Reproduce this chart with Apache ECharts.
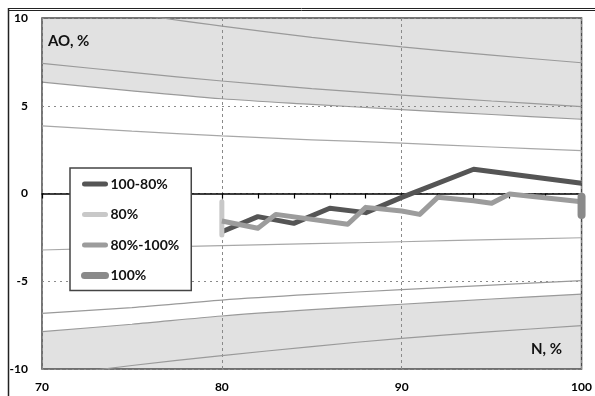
<!DOCTYPE html>
<html>
<head>
<meta charset="utf-8">
<script src="https://cdn.jsdelivr.net/npm/echarts@6/dist/echarts.min.js"></script>
<style>
  html, body { margin: 0; padding: 0; background: #fff; }
  #chart { width: 595px; height: 396px; }
</style>
</head>
<body>
<div id="chart"></div>
<script>
// Reference curves sampled along N, %
const nGrid = [70, 75, 80, 85, 90, 95, 100];
const curveA = [11.1, 10.25, 9.54, 8.9, 8.35, 7.88, 7.45];
const curveB = [7.42, 6.9, 6.41, 5.98, 5.61, 5.27, 4.95];
const curveC = [6.35, 5.85, 5.4, 5.08, 4.78, 4.5, 4.23];   // upper band edge
const curveD = [3.85, 3.55, 3.28, 3.06, 2.87, 2.65, 2.44];
const curveE = [-3.22, -3.09, -2.97, -2.86, -2.75, -2.63, -2.52];
const curveF = [-6.83, -6.5, -6.07, -5.75, -5.48, -5.22, -4.97];
const curveG = [-7.87, -7.45, -6.98, -6.62, -6.31, -6.01, -5.73]; // lower band edge
const curveH = [-10.45, -9.8, -9.24, -8.72, -8.25, -7.87, -7.53];

// Measured series
const n100to80 = [80, 82, 84, 86, 88, 90, 94, 100];
const ao100to80 = [-2.18, -1.32, -1.70, -0.84, -1.09, -0.22, 1.38, 0.58];
const n80 = [80, 80];
const ao80 = [-0.47, -2.36];
const n80to100 = [80, 82, 83, 87, 88, 90, 91, 92, 94, 95, 96, 100];
const ao80to100 = [-1.57, -1.98, -1.19, -1.75, -0.79, -1.0, -1.19, -0.22, -0.41, -0.56, -0.03, -0.47];
const n100 = [100, 100];
const ao100 = [-0.18, -1.22];

const xTickLabels = [70, 80, 90, 100];
const yTickLabels = [-10, -5, 0, 5, 10];

const FONT = 'Lato, "DejaVu Sans", sans-serif';
const zip = (xs, ys) => xs.map((x, i) => [x, ys[i]]);

function curve(ys, extra) {
  return Object.assign({
    type: 'line',
    data: zip(nGrid, ys),
    smooth: 0.3,
    symbol: 'none',
    silent: true,
    z: 1,
    lineStyle: { color: '#9a9a9a', width: 1.2 },
    legendHoverLink: false
  }, extra || {});
}

// legend entry: a plain rounded stroke, no point marker
const legendItem = (name, width) => ({
  name,
  lineStyle: { width, cap: 'round' },
  itemStyle: { opacity: 0 }
});

const chart = echarts.init(document.getElementById('chart'), null, { renderer: 'canvas' });

chart.setOption({
  animation: false,
  backgroundColor: '#ffffff',
  grid: {
    left: 42, top: 18, right: 12, bottom: 27,
    show: true, borderColor: '#4a4a4a', borderWidth: 1.5,
    backgroundColor: 'transparent'
  },
  xAxis: [
    {
      type: 'value', min: 70, max: 100, interval: 10,
      axisLine: { show: false, onZero: false },
      axisTick: { show: false },
      axisLabel: {
        margin: 12, color: '#000', fontFamily: FONT, fontWeight: 'bold', fontSize: 12,
        formatter: v => xTickLabels.includes(v) ? String(v) : ''
      },
      splitLine: { show: true, lineStyle: { color: '#8a8a8a', type: [3, 3], width: 1 } }
    },
    {
      type: 'value', min: 70, max: 100, interval: 2, position: 'top',
      axisLine: { show: true, onZero: true, onZeroAxisIndex: 0, lineStyle: { color: '#000', width: 1.5 } },
      axisTick: { show: true, inside: true, length: 5, lineStyle: { color: '#000', width: 1.2 } },
      axisLabel: { show: false },
      splitLine: { show: false }
    }
  ],
  yAxis: {
    type: 'value', min: -10, max: 10, interval: 5,
    axisLine: { show: false },
    axisTick: { show: false },
    axisLabel: {
      margin: 14, color: '#000', fontFamily: FONT, fontWeight: 'bold', fontSize: 12,
      formatter: v => yTickLabels.includes(v) ? String(v) : ''
    },
    splitLine: { show: true, lineStyle: { color: '#8a8a8a', type: [2, 4], width: 1 } }
  },
  legend: {
    left: 70, top: 168, orient: 'vertical',
    padding: [9, 12, 8, 11],
    itemWidth: 21, itemHeight: 14, itemGap: 16.5,
    backgroundColor: '#ffffff',
    borderColor: '#444', borderWidth: 1.5, borderRadius: 0,
    textStyle: { color: '#111', fontFamily: FONT, fontWeight: 'bold', fontSize: 14 },
    data: [
      legendItem('100-80%', 5),
      legendItem('80%', 5),
      legendItem('80%-100%', 5),
      legendItem('100%', 7)
    ]
  },
  graphic: [
    // outer frame
    { type: 'line', shape: { x1: 8, y1: 8.5, x2: 595, y2: 8.5 }, style: { stroke: '#222', lineWidth: 1 }, z: 10 },
    { type: 'line', shape: { x1: 8, y1: 10.5, x2: 595, y2: 10.5 }, style: { stroke: '#222', lineWidth: 1 }, z: 10 },
    { type: 'line', shape: { x1: 8.5, y1: 8, x2: 8.5, y2: 396 }, style: { stroke: '#222', lineWidth: 1.5 }, z: 10 },
    // axis titles
    { type: 'text', left: 48, top: 34, z: 10,
      style: { text: 'AO, %', fill: '#111', font: 'bold 15px ' + FONT } },
    { type: 'text', left: 531, top: 342, z: 10,
      style: { text: 'N, %', fill: '#111', font: 'bold 15px ' + FONT } }
  ],
  series: [
    curve(curveA),
    curve(curveB),
    curve(curveC, { areaStyle: { color: '#e1e1e1', opacity: 1, origin: 'end' }, z: -1 }),
    curve(curveD, { lineStyle: { color: '#a8a8a8', width: 1.2 } }),
    curve(curveE, { lineStyle: { color: '#a8a8a8', width: 1.2 } }),
    curve(curveF),
    curve(curveG, { areaStyle: { color: '#e1e1e1', opacity: 1, origin: 'start' }, z: -1 }),
    curve(curveH),
    {
      name: '100-80%', type: 'line', data: zip(n100to80, ao100to80), symbol: 'none', z: 3,
      lineStyle: { color: '#555555', width: 5, join: 'round' }, itemStyle: { color: '#555555' }
    },
    {
      name: '80%', type: 'line', data: zip(n80, ao80), symbol: 'none', z: 4,
      lineStyle: { color: '#c8c8c8', width: 5, cap: 'round' }, itemStyle: { color: '#c8c8c8' }
    },
    {
      name: '80%-100%', type: 'line', data: zip(n80to100, ao80to100), symbol: 'none', z: 4,
      lineStyle: { color: '#9c9c9c', width: 5, join: 'round' }, itemStyle: { color: '#9c9c9c' }
    },
    {
      name: '100%', type: 'line', data: zip(n100, ao100), symbol: 'none', z: 4,
      lineStyle: { color: '#8a8a8a', width: 8, cap: 'round' }, itemStyle: { color: '#8a8a8a' }
    }
  ]
});
</script>
</body>
</html>
